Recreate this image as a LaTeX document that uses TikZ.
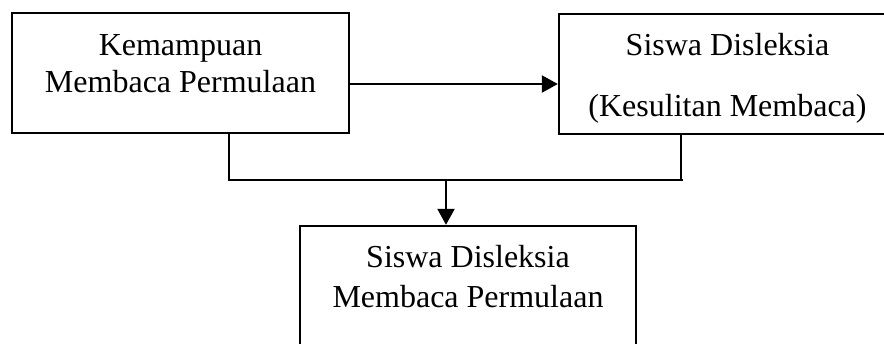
\documentclass[tikz,border=0pt]{standalone}
\usepackage{fontspec}
\setmainfont{Liberation Serif}
\usetikzlibrary{arrows.meta}
\begin{document}
\begin{tikzpicture}[x=1pt,y=-1pt,
  box/.style={draw, line width=2.4pt, inner sep=0pt, minimum width=337pt},
  txt/.style={anchor=base, inner sep=0pt, font=\fontsize{32}{37}\selectfont},
  link/.style={line width=2.4pt, line join=miter},
  arrow/.style={link, -{Triangle[length=16pt,width=17pt]}}]
\useasboundingbox (0,0) rectangle (884,343);
\begin{scope}
\clip (0,0) rectangle (884,343);
% boxes
\node[box, minimum height=120pt] (A) at (180.5,73) {};
\node[box, minimum height=120pt] (B) at (727.5,74) {};
\node[box, minimum width=336pt, minimum height=140pt] (C) at (468,296) {};
% texts
\node[txt] (a1) at (180.5,55) {Kemampuan};
\node[txt] (a2) at (180.5,92) {Membaca Permulaan};
\node[txt] (b1) at (727.5,55) {Siswa Disleksia};
\node[txt] (b2) at (727.5,116) {(Kesulitan Membaca)};
\node[txt] (c1) at (468,267) {Siswa Disleksia};
\node[txt] (c2) at (468,307) {Membaca Permulaan};
% connectors
\coordinate (busL) at (229,180);
\coordinate (busR) at (681,180);
\coordinate (busM) at (446,180);
\coordinate (busEnd) at (683,180);
\draw[arrow] (A.east |- 0,84) -- (B.west |- 0,84);
\draw[link] (A.south -| busL) -- (busL) -- (busEnd);
\draw[link] (B.south -| busR) -- (busR);
\draw[arrow] (busM) -- (C.north -| busM);
\end{scope}
\end{tikzpicture}
\end{document}
